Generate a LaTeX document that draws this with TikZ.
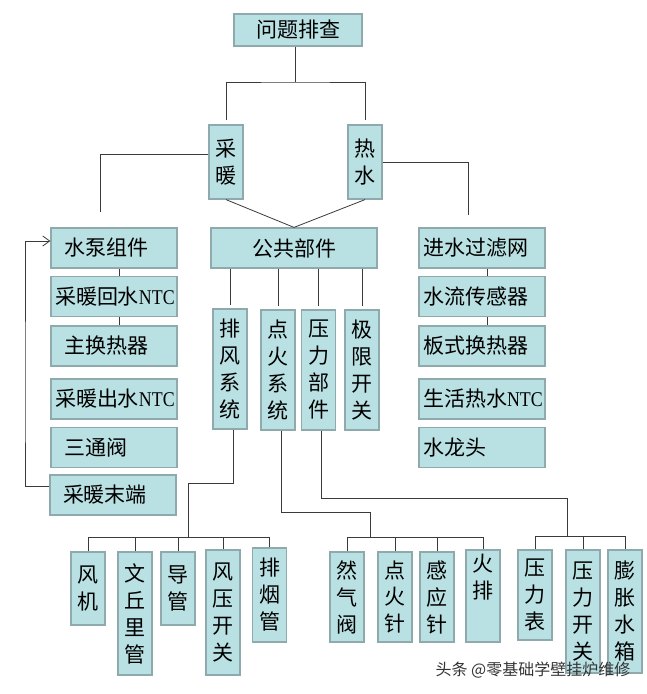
\documentclass[tikz,border=0pt]{standalone}
\usepackage{fontspec}
\setmainfont{Liberation Serif}
\newfontfamily\cjk{Noto Sans CJK SC}
\newfontfamily\narrowrm[FakeStretch=0.85]{Liberation Serif}
\usetikzlibrary{arrows.meta}
\definecolor{boxfill}{HTML}{B9E0E2}
\definecolor{boxline}{HTML}{8EAAAC}
\definecolor{wire}{HTML}{3A3A3A}
\newcommand{\ntc}{{\narrowrm NTC}}
\tikzset{
  box/.style={draw=boxline, fill=boxfill, line width=1.2pt, font=\cjk\fontsize{21}{27}\selectfont},
  hbox/.style={box, minimum height=40pt, text width=100pt, inner xsep=13pt, inner ysep=0pt, align=left},
  nbox/.style={box, minimum height=40pt, text width=118pt, inner xsep=4pt, inner ysep=0pt, align=left},
  vbox/.style={box, minimum width=34pt, inner sep=0pt, align=center},
  link/.style={draw=wire, line width=0.8pt},
  wmark/.style={text=black!80, font=\cjk\fontsize{16}{16}\selectfont}
}
\begin{document}
\begin{tikzpicture}[x=1pt, y=-1pt]
	\useasboundingbox (0,0) rectangle (646,694);
	% top levels
	\node[box, minimum width=128pt, minimum height=32pt, inner sep=0pt] (top) at (298,30) {问题排查};
	\node[vbox, minimum height=74pt] (cn) at (226,162) {采\\暖};
	\node[vbox, minimum height=74pt] (rs) at (365,162) {热\\水};
	\node[box, minimum width=166pt, minimum height=40pt, inner sep=0pt] (common) at (294,248) {公共部件};
	% heating column
	\node[hbox] (pump) at (114,248) {水泵组件};
	\node[nbox] (rntc) at (114,296.5) {采暖回水\ntc};
	\node[hbox] (mhx) at (114,346) {主换热器};
	\node[nbox] (sntc) at (114,399) {采暖出水\ntc};
	\node[hbox] (tvalve) at (114,447.5) {三通阀};
	\node[hbox] (rad) at (113,495) {采暖末端};
	% hot water column
	\node[nbox] (filter) at (482,248) {进水过滤网};
	\node[nbox] (flow) at (482,296.5) {水流传感器};
	\node[nbox] (phx) at (482,346) {板式换热器};
	\node[nbox] (dntc) at (482,399) {生活热水\ntc};
	\node[nbox] (tap) at (482,447.5) {水龙头};
	% common parts
	\node[vbox, minimum height=120pt] (wind) at (230,369) {排\\风\\系\\统};
	\node[vbox, minimum height=120pt] (ign) at (278,370) {点\\火\\系\\统};
	\node[vbox, minimum height=120pt] (press) at (318.5,370) {压\\力\\部\\件};
	\node[vbox, minimum height=120pt] (limit) at (362,370) {极\\限\\开\\关};
	% bottom row
	\node[vbox, minimum height=73pt] (fan) at (88,588.5) {风\\机};
	\node[vbox, minimum height=123pt] (venturi) at (135,613.5) {文\\丘\\里\\管};
	\node[vbox, minimum height=73pt] (duct) at (178,588.5) {导\\管};
	\node[vbox, minimum height=125pt] (wps) at (223,612.5) {风\\压\\开\\关};
	\node[vbox, minimum height=94pt] (flue) at (269.5,595) {排\\烟\\管};
	\node[vbox, minimum height=90pt] (gas) at (347,597) {然\\气\\阀};
	\node[vbox, minimum height=90pt] (ignpin) at (395,597) {点\\火\\针};
	\node[vbox, minimum height=90pt] (sense) at (437,597) {感\\应\\针};
	\node[vbox, minimum height=92pt, text depth=40pt] (burner) at (483,596) {火\\排};
	\node[vbox, minimum height=90pt] (gauge) at (535,595) {压\\力\\表};
	\node[vbox, minimum height=123pt] (psw) at (583,611.5) {压\\力\\开\\关};
	\node[vbox, minimum height=123pt] (expt) at (625,611.5) {膨\\胀\\水\\箱};
	\node[wmark] (wm) at (533,670) {头条 @零基础学壁挂炉维修};
	% joints
	\coordinate (j1) at (295,82);
	\coordinate (cnend) at (100,212);
	\coordinate (rsend) at (468,215);
	\coordinate (loop) at (25,400);
	\coordinate (j2) at (188,483);
	\coordinate (b1) at (188,537);
	\coordinate (j3) at (370,512);
	\coordinate (b2) at (370,537);
	\coordinate (j4) at (567,498);
	\coordinate (b3) at (567,536);
	% connectors
	\draw[link] (j1 |- top.south) -- (j1);
	\draw[link, shorten <=4pt, shorten >=4pt] (cn.north) |- (j1) -| (rs.north);
	\draw[link] ([yshift=8pt]cn.west) -| (cnend);
	\draw[link] (rs.east) -| (rsend);
	\draw[link] (cn.south) -- (common.north);
	\draw[link] (rs.south) -- (common.north);
	\draw[link] ([xshift=5pt]pump.south) -- ([xshift=5pt]rntc.north);
	\draw[link] ([xshift=5pt]rntc.south) -- ([xshift=5pt]mhx.north);
	\draw[link] ([xshift=5pt]filter.south) -- ([xshift=5pt]flow.north);
	\draw[link] ([xshift=5pt]flow.south) -- ([xshift=5pt]phx.north);
	\draw[link, -{Straight Barb[length=7pt, width=10pt]}] ([yshift=9pt]rad.west) -| (loop) |- ([yshift=7pt]pump.west);
	\foreach \n in {wind,ign,press,limit}
		\draw[link, shorten >=3pt] (\n.north |- common.south) -- (\n.north);
	\draw[link] ([xshift=3pt]wind.south) |- (j2) -- (b1);
	\draw[link] (fan.north |- b1) -- (flue.north |- b1);
	\foreach \n in {fan,venturi,duct,wps,flue}
		\draw[link] (\n.north |- b1) -- (\n.north);
	\draw[link] ([xshift=3pt]ign.south) |- (j3) -- (b2);
	\draw[link] (gas.north |- b2) -- (burner.north |- b2);
	\foreach \n in {gas,ignpin,sense,burner}
		\draw[link] (\n.north |- b2) -- (\n.north);
	\draw[link] ([xshift=3pt]press.south) |- (j4) -- (b3);
	\draw[link] (gauge.north |- b3) -- (expt.north |- b3);
	\foreach \n in {gauge,psw,expt}
		\draw[link] (\n.north |- b3) -- (\n.north);
\end{tikzpicture}
\end{document}
